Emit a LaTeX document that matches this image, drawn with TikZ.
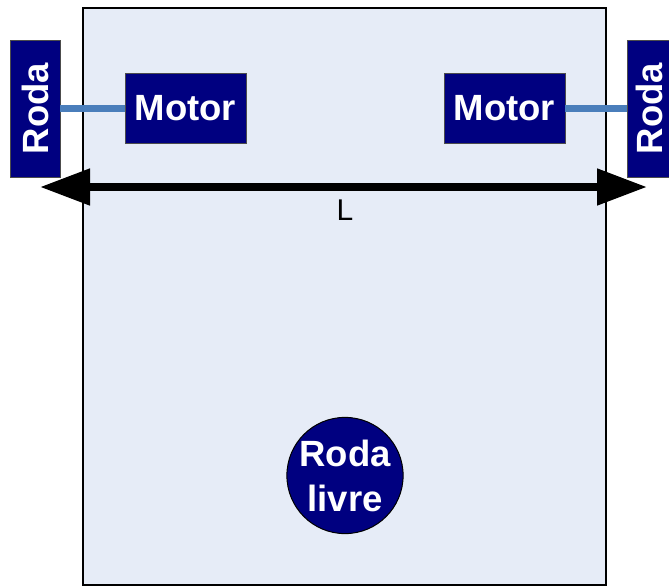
\documentclass[tikz,border=0pt]{standalone}
\usepackage{fontspec}
\setmainfont{Liberation Sans}
\usetikzlibrary{arrows.meta}
\definecolor{navyfill}{HTML}{000080}
\definecolor{bodyfill}{HTML}{E6ECF7}
\definecolor{axle}{HTML}{4A7EBB}
\tikzset{
  blk/.style={fill=navyfill, draw=black!70, line width=0.8pt, text=white, font=\fontsize{36.5}{40}\selectfont\bfseries, inner sep=0pt, align=center},
}
\begin{document}
\begin{tikzpicture}[x=1pt,y=-1pt]
\useasboundingbox (0,0) rectangle (669,587);
\begin{scope}
\clip (0,0) rectangle (669,587);
% chassis
\node[draw=black, line width=1.5pt, fill=bodyfill, minimum width=523pt, minimum height=577pt, inner sep=0pt] (body) at (344.5,296.5) {};
% wheels
\node[blk, minimum width=50pt, minimum height=137pt] (rodaL) at (35,108.5) {\rotatebox{90}{Roda}};
\node[blk, minimum width=43pt, minimum height=137pt] (rodaR) at (649,108.5) {\rotatebox{90}{Roda}};
% motors
\node[blk, minimum width=121pt, minimum height=70pt] (motorL) at (185.5,108) {Motor};
\node[blk, minimum width=121pt, minimum height=70pt] (motorR) at (504.5,108) {Motor};
% axles
\draw[axle, line width=7pt] (rodaL.east |- motorL.west) -- (motorL.west);
\draw[axle, line width=7pt] (motorR.east) -- (rodaR.west |- motorR.east);
% width arrow
\coordinate (aL) at (40,187);
\coordinate (aR) at (647,187);
\draw[line width=8pt, {Triangle[length=50pt,width=35pt]}-{Triangle[length=50pt,width=35pt]}] (aL) -- (aR);
\node[font=\fontsize{30}{34}\selectfont, inner sep=0pt] (Llabel) at (345,210) {L};
% caster
\node[circle, fill=navyfill, draw=black, line width=1pt, minimum size=114pt, inner sep=0pt, text=white, font=\fontsize{36.5}{45}\selectfont\bfseries, align=center] (caster) at (345,475.5) {Roda\\livre};
\end{scope}
\end{tikzpicture}
\end{document}
